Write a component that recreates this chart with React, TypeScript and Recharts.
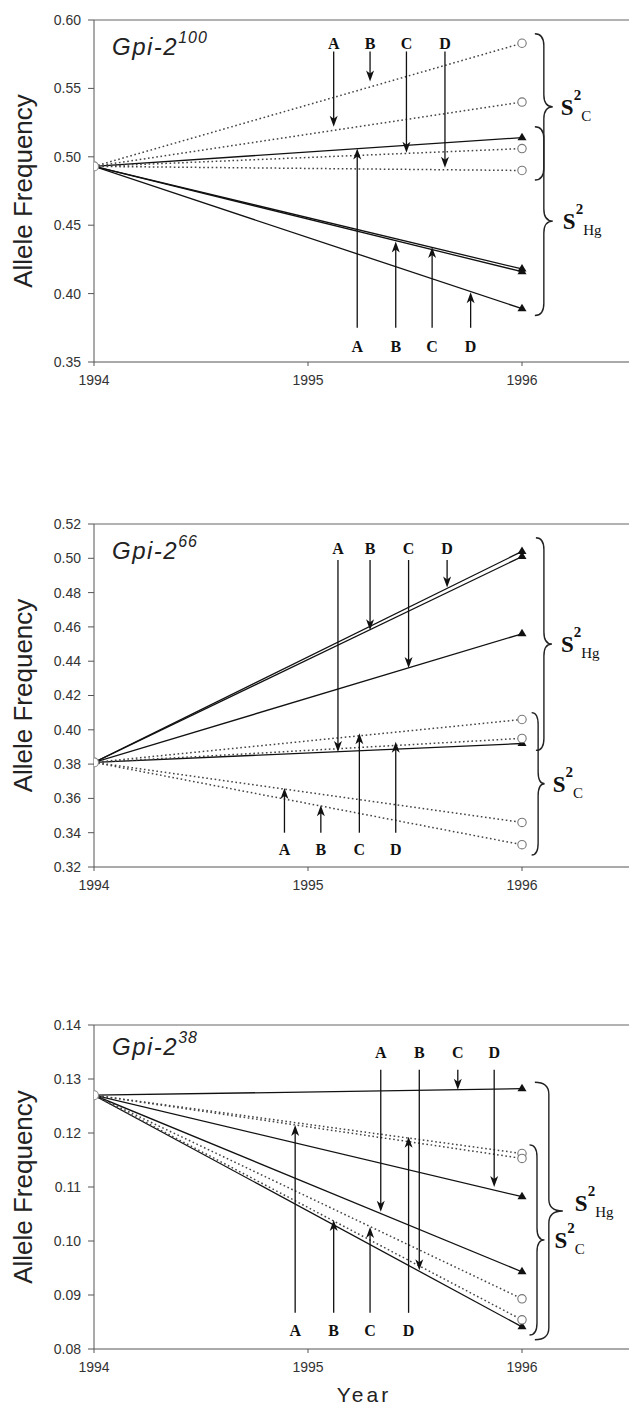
import React from "react"
import { LineChart, Line, XAxis, YAxis, ReferenceLine, ReferenceDot } from "recharts"

const letters = ["A", "B", "C", "D"]
const years = [1994, 1996]
const xTicks = [1994, 1995, 1996]

// Gpi-2 100
const p1Start = 0.493
const p1Circles = [0.583, 0.54, 0.506, 0.49]
const p1Triangles = [0.514, 0.418, 0.416, 0.389]
const p1Ticks = [0.35, 0.4, 0.45, 0.5, 0.55, 0.6]
const p1DownX = [1995.12, 1995.29, 1995.46, 1995.64]
const p1DownTip = [0.522, 0.555, 0.503, 0.492]
const p1UpX = [1995.23, 1995.41, 1995.58, 1995.76]
const p1UpTip = [0.506, 0.438, 0.434, 0.401]
const p1BraceSub = ["C", "Hg"]
const p1BraceX = [1996.06, 1996.06]
const p1BraceTop = [0.59, 0.522]
const p1BraceBottom = [0.483, 0.384]

// Gpi-2 66
const p2Start = 0.381
const p2Circles = [0.406, 0.395, 0.346, 0.333]
const p2Triangles = [0.504, 0.501, 0.456, 0.392]
const p2Ticks = [0.32, 0.34, 0.36, 0.38, 0.4, 0.42, 0.44, 0.46, 0.48, 0.5, 0.52]
const p2DownX = [1995.14, 1995.29, 1995.47, 1995.65]
const p2DownTip = [0.387, 0.458, 0.436, 0.483]
const p2UpX = [1994.89, 1995.06, 1995.24, 1995.41]
const p2UpTip = [0.366, 0.356, 0.398, 0.393]
const p2BraceSub = ["Hg", "C"]
const p2BraceX = [1996.065, 1996.045]
const p2BraceTop = [0.512, 0.41]
const p2BraceBottom = [0.388, 0.327]

// Gpi-2 38
const p3Start = 0.127
const p3Circles = [0.1162, 0.1153, 0.0893, 0.0854]
const p3Triangles = [0.1282, 0.1082, 0.0943, 0.0841]
const p3Ticks = [0.08, 0.09, 0.1, 0.11, 0.12, 0.13, 0.14]
const p3DownX = [1995.34, 1995.52, 1995.7, 1995.87]
const p3DownTip = [0.1054, 0.0946, 0.128, 0.11]
const p3UpX = [1994.94, 1995.12, 1995.29, 1995.47]
const p3UpTip = [0.1215, 0.1039, 0.1026, 0.1193]
const p3BraceSub = ["Hg", "C"]
const p3BraceX = [1996.06, 1996.035]
const p3BraceTop = [0.1294, 0.1178]
const p3BraceBottom = [0.0817, 0.0826]

const SANS = "'Liberation Sans', Arial, Helvetica, sans-serif"
const SERIF = "'Liberation Serif', 'Times New Roman', serif"

const triangleDot = (p: any) => {
  const key = `t-${p.index}`
  if (p.index === 0 || p.cx == null) return <g key={key} />
  return (
    <polygon
      key={key}
      points={`${p.cx},${p.cy - 5} ${p.cx - 4.5},${p.cy + 2.5} ${p.cx + 4.5},${p.cy + 2.5}`}
      fill="#111"
    />
  )
}

const circleDot = (p: any) => {
  const key = `c-${p.index}`
  if (p.index === 0 || p.cx == null) return <g key={key} />
  return <circle key={key} cx={p.cx} cy={p.cy} r={4.2} fill="#fff" stroke="#777" strokeWidth={1.1} />
}

const startDot = (p: any) => (
  <circle key="start" cx={p.cx} cy={p.cy} r={4.5} fill="#fff" stroke="#888" strokeWidth={1.1} />
)

const arrowShape = (p: any) => {
  const { x1, y1, x2, y2 } = p
  const dir = y2 > y1 ? 1 : -1
  const head = 11
  return (
    <g>
      <line x1={x1} y1={y1} x2={x2} y2={y2 - dir * 4} stroke="#111" strokeWidth={1.3} />
      <polygon
        points={`${x2},${y2} ${x2 - 4},${y2 - dir * head} ${x2},${y2 - dir * (head - 3)} ${x2 + 4},${y2 - dir * head}`}
        fill="#111"
      />
    </g>
  )
}

const braceShape = (sub: string, w: number, dx: number, dy: number) => (p: any) => {
  const { x1, y1, y2 } = p
  const top = Math.min(y1, y2)
  const bot = Math.max(y1, y2)
  const mid = (top + bot) / 2
  const xm = x1 + w * 0.5
  const xt = x1 + w
  const r = Math.min(12, (bot - top) / 4)
  const d = `M${x1},${top} Q${xm},${top} ${xm},${top + r} L${xm},${mid - r} Q${xm},${mid} ${xt},${mid} Q${xm},${mid} ${xm},${mid + r} L${xm},${bot - r} Q${xm},${bot} ${x1},${bot}`
  return (
    <g>
      <path d={d} fill="none" stroke="#222" strokeWidth={1.4} />
      <text x={xt + dx} y={mid + dy} fontFamily={SERIF} fill="#111">
        <tspan fontSize={23} fontWeight="bold">S</tspan>
        <tspan fontSize={15} fontWeight="bold" dy={-15}>2</tspan>
        <tspan fontSize={15} dy={21}>{sub}</tspan>
      </text>
    </g>
  )
}

const letterShape = (letter: string) => (p: any) => (
  <text
    x={p.cx}
    y={p.cy}
    textAnchor="middle"
    dominantBaseline="central"
    fontFamily={SERIF}
    fontWeight="bold"
    fontSize={16}
    fill="#111"
  >
    {letter}
  </text>
)

type PanelProps = {
  top: number
  plotHeight: number
  axisHeight: number
  domain: [number, number]
  yTicks: number[]
  start: number
  circles: number[]
  triangles: number[]
  downX: number[]
  downTip: number[]
  downTail: number
  downLabel: number
  upX: number[]
  upTip: number[]
  upTail: number
  upLabel: number
  braceSub: string[]
  braceX: number[]
  braceTop: number[]
  braceBottom: number[]
  braceW: number[]
  braceDx: number[]
  braceDy: number[]
  sup: string
  titleTop: number
  xLabel?: boolean
}

function Panel(props: PanelProps) {
  const { top, plotHeight, axisHeight, domain, start } = props
  const height = 20 + plotHeight + axisHeight
  const toSeries = (v: number) => years.map((yr, i) => ({ year: yr, f: i === 0 ? start : v }))

  return (
    <div style={{ position: "absolute", left: 0, top, width: 629, height }}>
      <LineChart width={629} height={height} margin={{ top: 20, right: 0, bottom: 0, left: 0 }}>
        <XAxis
          type="number"
          dataKey="year"
          domain={[1994, 1996.5]}
          allowDataOverflow
          ticks={xTicks}
          tickSize={4}
          tickMargin={9}
          height={axisHeight}
          stroke="#555"
          tick={{ fill: "#333", fontSize: 14, fontFamily: SANS }}
          label={
            props.xLabel
              ? () => (
                  <text x={364} y={height - 6} textAnchor="middle" fontFamily={SANS} fontSize={21} letterSpacing={3} fill="#222">
                    Year
                  </text>
                )
              : undefined
          }
        />
        <YAxis
          type="number"
          domain={domain}
          allowDataOverflow
          ticks={props.yTicks}
          width={94}
          tickSize={6}
          tickMargin={7}
          stroke="#555"
          tickFormatter={(v: number) => v.toFixed(2)}
          tick={{ fill: "#333", fontSize: 14, fontFamily: SANS }}
          label={() => (
            <text
              x={32}
              y={20 + plotHeight / 2}
              transform={`rotate(-90, 32, ${20 + plotHeight / 2})`}
              textAnchor="middle"
              fontFamily={SANS}
              fontSize={26}
              fill="#222"
            >
              Allele Frequency
            </text>
          )}
        />
        <ReferenceLine y={domain[1]} stroke="#666" strokeWidth={1.2} />

        {props.triangles.map((v, i) => (
          <Line
            key={`tri-${i}`}
            data={toSeries(v)}
            dataKey="f"
            stroke="#111"
            strokeWidth={1.3}
            dot={triangleDot}
            activeDot={false}
            isAnimationActive={false}
          />
        ))}
        {props.circles.map((v, i) => (
          <Line
            key={`cir-${i}`}
            data={toSeries(v)}
            dataKey="f"
            stroke="#444"
            strokeWidth={1.5}
            strokeDasharray="1.6 2.6"
            dot={circleDot}
            activeDot={false}
            isAnimationActive={false}
          />
        ))}
        <Line
          data={[{ year: 1994, f: start }]}
          dataKey="f"
          stroke="none"
          dot={startDot}
          activeDot={false}
          isAnimationActive={false}
        />

        {props.downX.map((x, i) => (
          <ReferenceLine
            key={`down-${i}`}
            segment={[
              { x, y: props.downTail },
              { x, y: props.downTip[i] },
            ]}
            shape={arrowShape}
          />
        ))}
        {props.upX.map((x, i) => (
          <ReferenceLine
            key={`up-${i}`}
            segment={[
              { x, y: props.upTail },
              { x, y: props.upTip[i] },
            ]}
            shape={arrowShape}
          />
        ))}
        {props.downX.map((x, i) => (
          <ReferenceDot key={`dl-${i}`} x={x} y={props.downLabel} r={1} shape={letterShape(letters[i])} />
        ))}
        {props.upX.map((x, i) => (
          <ReferenceDot key={`ul-${i}`} x={x} y={props.upLabel} r={1} shape={letterShape(letters[i])} />
        ))}
        {props.braceSub.map((sub, i) => (
          <ReferenceLine
            key={`brace-${i}`}
            segment={[
              { x: props.braceX[i], y: props.braceTop[i] },
              { x: props.braceX[i], y: props.braceBottom[i] },
            ]}
            shape={braceShape(sub, props.braceW[i], props.braceDx[i], props.braceDy[i])}
          />
        ))}
      </LineChart>
      <div
        style={{
          position: "absolute",
          left: 112,
          top: props.titleTop,
          fontFamily: SANS,
          fontStyle: "italic",
          fontSize: 24,
          lineHeight: "24px",
          letterSpacing: 1.5,
          color: "#222",
          whiteSpace: "nowrap",
        }}
      >
        Gpi-2
        <span style={{ fontSize: 16, position: "relative", top: -12, letterSpacing: 1 }}>{props.sup}</span>
      </div>
    </div>
  )
}

export default function App() {
  return (
    <div style={{ position: "absolute", left: 0, top: 0, width: 629, height: 1408, background: "#fff" }}>
      <Panel
        top={0}
        plotHeight={342}
        axisHeight={40}
        domain={[0.35, 0.6]}
        yTicks={p1Ticks}
        start={p1Start}
        circles={p1Circles}
        triangles={p1Triangles}
        downX={p1DownX}
        downTip={p1DownTip}
        downTail={0.577}
        downLabel={0.583}
        upX={p1UpX}
        upTip={p1UpTip}
        upTail={0.375}
        upLabel={0.361}
        braceSub={p1BraceSub}
        braceX={p1BraceX}
        braceTop={p1BraceTop}
        braceBottom={p1BraceBottom}
        braceW={[18, 18]}
        braceDx={[8, 10]}
        braceDy={[8, 8]}
        sup="100"
        titleTop={35}
      />
      <Panel
        top={504}
        plotHeight={343}
        axisHeight={40}
        domain={[0.32, 0.52]}
        yTicks={p2Ticks}
        start={p2Start}
        circles={p2Circles}
        triangles={p2Triangles}
        downX={p2DownX}
        downTip={p2DownTip}
        downTail={0.499}
        downLabel={0.506}
        upX={p2UpX}
        upTip={p2UpTip}
        upTail={0.34}
        upLabel={0.33}
        braceSub={p2BraceSub}
        braceX={p2BraceX}
        braceTop={p2BraceTop}
        braceBottom={p2BraceBottom}
        braceW={[16, 13]}
        braceDx={[9, 8]}
        braceDy={[8, 8]}
        sup="66"
        titleTop={35}
      />
      <Panel
        top={1005}
        plotHeight={324}
        axisHeight={59}
        domain={[0.08, 0.14]}
        yTicks={p3Ticks}
        start={p3Start}
        circles={p3Circles}
        triangles={p3Triangles}
        downX={p3DownX}
        downTip={p3DownTip}
        downTail={0.1317}
        downLabel={0.1349}
        upX={p3UpX}
        upTip={p3UpTip}
        upTail={0.0867}
        upLabel={0.0835}
        braceSub={p3BraceSub}
        braceX={p3BraceX}
        braceTop={p3BraceTop}
        braceBottom={p3BraceBottom}
        braceW={[28, 15]}
        braceDx={[12, 10]}
        braceDy={[0, 8]}
        sup="38"
        titleTop={30}
        xLabel
      />
    </div>
  )
}
